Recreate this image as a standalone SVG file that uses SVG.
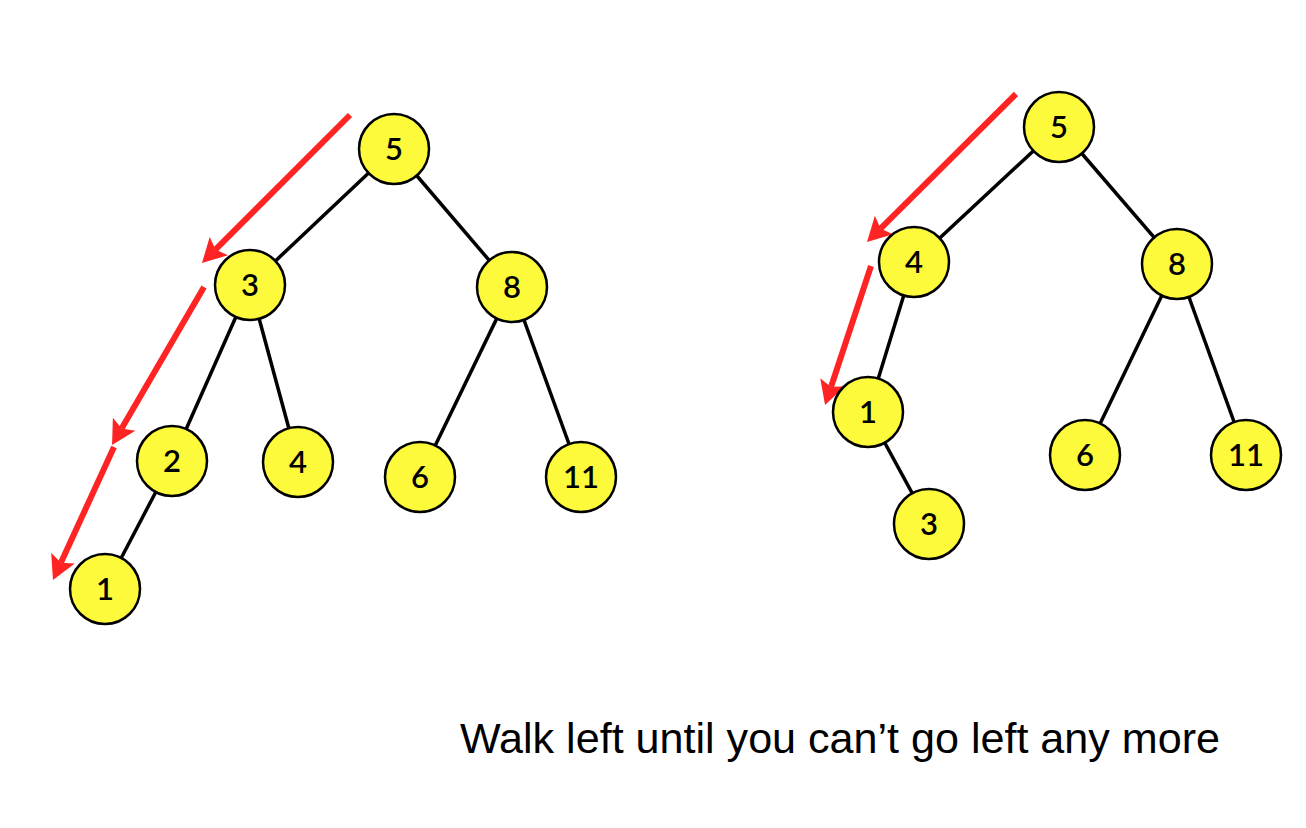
<svg xmlns="http://www.w3.org/2000/svg" width="1306" height="828" viewBox="0 0 1306 828">
<style>
.edge{stroke:#000;stroke-width:3.5;fill:none}
.walk{stroke:#ff2424;stroke-width:6;fill:none;marker-end:url(#ah)}
.node circle{fill:#fdfa3c;stroke:#000;stroke-width:2.5}
.node text{font-family:"Lato","Liberation Sans",sans-serif;font-size:31px;font-weight:600;text-anchor:middle;fill:#000}
.caption{font-family:"Liberation Sans",Arial,sans-serif;font-size:42px;fill:#000}
</style>
<defs>
<marker id="ah" markerUnits="userSpaceOnUse" viewBox="0 -14 24 28" markerWidth="24" markerHeight="28" refX="5" refY="0" orient="auto">
<path d="M0,-13 L24,0 L0,13 L5,0 Z" fill="#ff2424"/>
</marker>
</defs>
<rect width="1306" height="828" fill="#fff"/>
<g id="connectors">
<line class="edge" x1="394" y1="149" x2="250" y2="285"/>
<line class="edge" x1="394" y1="149" x2="512" y2="287"/>
<line class="edge" x1="250" y1="285" x2="172" y2="461"/>
<line class="edge" x1="250" y1="285" x2="298" y2="462"/>
<line class="edge" x1="512" y1="287" x2="420" y2="477"/>
<line class="edge" x1="512" y1="287" x2="581" y2="477"/>
<line class="edge" x1="172" y1="461" x2="105" y2="589"/>
<line class="edge" x1="1059" y1="127" x2="914" y2="262"/>
<line class="edge" x1="1059" y1="127" x2="1177" y2="264"/>
<line class="edge" x1="914" y1="262" x2="868" y2="412"/>
<line class="edge" x1="868" y1="412" x2="929" y2="524"/>
<line class="edge" x1="1177" y1="264" x2="1085" y2="455"/>
<line class="edge" x1="1177" y1="264" x2="1246" y2="455"/>
<line class="walk" x1="350" y1="115" x2="215.4" y2="249.6"/>
<line class="walk" x1="204" y1="287" x2="121.6" y2="428.6"/>
<line class="walk" x1="114" y1="447" x2="60.9" y2="562.7"/>
<line class="walk" x1="1016" y1="94" x2="880.5" y2="228.6"/>
<line class="walk" x1="871" y1="266" x2="831" y2="387"/>
</g>
<g id="L5" class="node"><circle cx="394" cy="149" r="35"/><text x="394" y="160">5</text></g>
<g id="L3" class="node"><circle cx="250" cy="285" r="35"/><text x="250" y="296">3</text></g>
<g id="L8" class="node"><circle cx="512" cy="287" r="35"/><text x="512" y="298">8</text></g>
<g id="L2" class="node"><circle cx="172" cy="461" r="35"/><text x="172" y="472">2</text></g>
<g id="L4" class="node"><circle cx="298" cy="462" r="35"/><text x="298" y="473">4</text></g>
<g id="L6" class="node"><circle cx="420" cy="477" r="35"/><text x="420" y="488">6</text></g>
<g id="L11" class="node"><circle cx="581" cy="477" r="35"/><text x="581" y="488">11</text></g>
<g id="L1" class="node"><circle cx="105" cy="589" r="35"/><text x="105" y="600">1</text></g>
<g id="R5" class="node"><circle cx="1059" cy="127" r="35"/><text x="1059" y="138">5</text></g>
<g id="R4" class="node"><circle cx="914" cy="262" r="35"/><text x="914" y="273">4</text></g>
<g id="R8" class="node"><circle cx="1177" cy="264" r="35"/><text x="1177" y="275">8</text></g>
<g id="R1" class="node"><circle cx="868" cy="412" r="35"/><text x="868" y="423">1</text></g>
<g id="R3" class="node"><circle cx="929" cy="524" r="35"/><text x="929" y="535">3</text></g>
<g id="R6" class="node"><circle cx="1085" cy="455" r="35"/><text x="1085" y="466">6</text></g>
<g id="R11" class="node"><circle cx="1246" cy="455" r="35"/><text x="1246" y="466">11</text></g>
<text class="caption" x="460" y="753" textLength="760" lengthAdjust="spacingAndGlyphs">Walk left until you can’t go left any more</text>
</svg>
